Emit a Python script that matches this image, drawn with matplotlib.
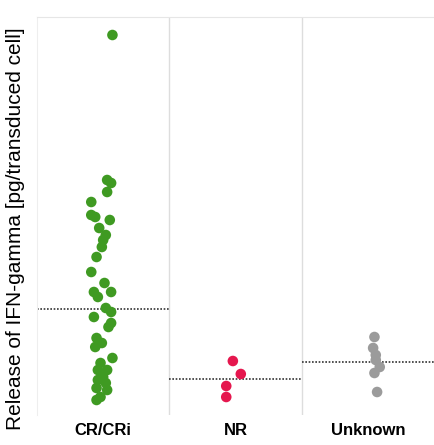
import numpy as np
import matplotlib
matplotlib.use('Agg')
import matplotlib.pyplot as plt

plt.rcParams['font.family'] = ['Liberation Sans', 'DejaVu Sans']

categories = ['CR/CRi', 'NR', 'Unknown']
colors = ['#3f9a22', '#e5174e', '#9b9b9b']

# release values (arbitrary units) and horizontal jitter
cr_vals = [380, 235, 232, 223, 213, 200, 198, 195, 187, 180, 175, 168, 158, 143,
           132, 123, 118, 123, 107, 103, 98, 92, 88, 77, 68, 72, 57, 52, 45, 45,
           38, 35, 32, 27, 25, 18, 15]
cr_jit = [0.07, 0.03, 0.06, 0.03, -0.09, -0.09, -0.06, 0.05, -0.03, 0.02, 0.0,
          -0.01, -0.05, -0.09, 0.01, -0.07, -0.04, 0.06, 0.02, 0.06, -0.07, 0.06,
          0.04, -0.05, -0.06, -0.01, 0.07, -0.02, -0.04, 0.03, 0.0, -0.04, 0.02,
          -0.05, 0.03, -0.02, -0.05]
nr_vals = [54, 41, 29, 18]
nr_jit = [-0.02, 0.04, -0.07, -0.07]
unk_vals = [78, 67, 60, 55, 48, 42, 23]
unk_jit = [0.05, 0.04, 0.06, 0.06, 0.09, 0.05, 0.07]
medians = [106, 36, 53]

values = [cr_vals, nr_vals, unk_vals]
jitters = [cr_jit, nr_jit, unk_jit]

fig = plt.figure(figsize=(4.34, 4.45), dpi=100)
ax = fig.add_axes([37 / 434, 30 / 445, 397 / 434, 398 / 445])

for i in range(3):
    x = i + 0.5 + np.array(jitters[i])
    ax.scatter(x, values[i], s=58, color=colors[i], edgecolors='none', zorder=3)
    ax.plot([i, i + 1], [medians[i], medians[i]], color='#333333', lw=1.2,
            ls=(0, (1, 1)), zorder=2)

for b in [1, 2]:
    ax.axvline(b, color='#dddddd', lw=1, zorder=1)

ax.set_xlim(0, 3)
ax.set_ylim(0, 398)
ax.set_xticks([0.5, 1.5, 2.5])
ax.set_xticklabels(categories, fontsize=12, fontweight='bold')
ax.tick_params(axis='x', length=0, pad=6)
ax.set_yticks([])
for s in ['right', 'bottom']:
    ax.spines[s].set_visible(False)
ax.spines['left'].set_color('#eeeeee')
ax.spines['top'].set_color('#e6e6e6')
ax.set_ylabel('Release of IFN-gamma [pg/transduced cell]', fontsize=15)
ax.yaxis.set_label_coords(-0.03, 0.467)

fig.savefig('out.png', dpi=100)
